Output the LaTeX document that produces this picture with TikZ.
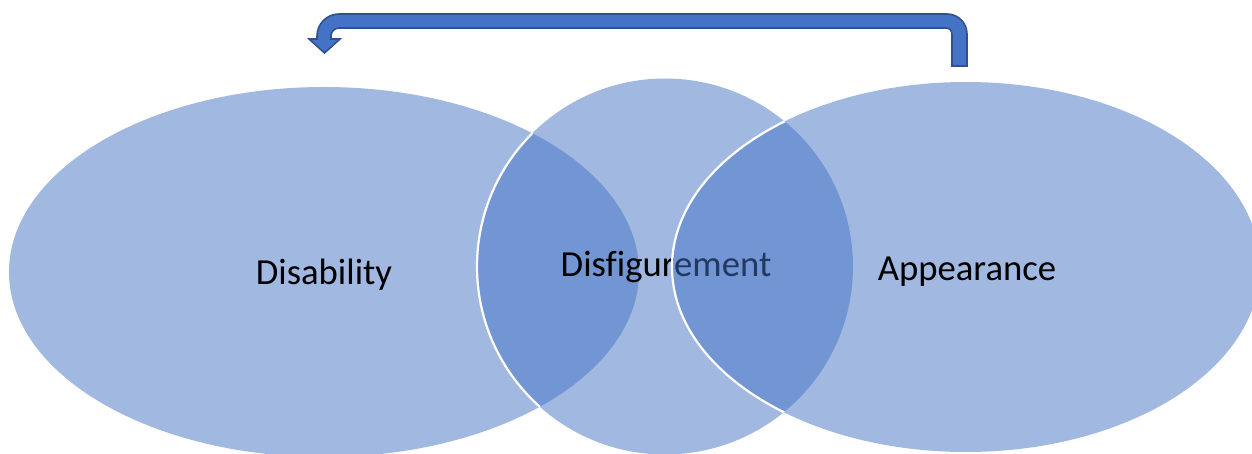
\documentclass[tikz,border=0pt]{standalone}
\usepackage{fontspec}
\setmainfont{Carlito}[Ligatures={NoCommon}]
\definecolor{acc}{HTML}{4472C4}
\definecolor{accd}{HTML}{2F528F}
\tikzset{
  blob/.style={fill=acc, fill opacity=0.5, draw=none},
  rim/.style={draw=white, line width=1.1pt},
  lbl/.style={font=\fontsize{18.35}{22}\selectfont, text=black, anchor=base, inner sep=0pt},
  uarrow/.style={fill=acc, draw=accd, line width=0.8pt, line join=miter}
}
\begin{document}
\begin{tikzpicture}[x=0.5pt,y=-0.5pt]
\useasboundingbox (0,0) rectangle (1252,454);
\clip (0,0) rectangle (1252,454);
% left ellipse
\path[blob] (324,272) ellipse [x radius=315, y radius=185];
\node[lbl] (dis) at (324,285) {Disability};
% centre circle
\path[blob] (665,266.5) circle [radius=188];
\begin{scope}
  \clip (324,272) ellipse [x radius=315, y radius=185];
  \path[rim] (665,266.5) circle [radius=188];
\end{scope}
\node[lbl] (dfg) at (666,277) {Disfigurement};
% right ellipse
\path[blob] (966,267) ellipse [x radius=294, y radius=185];
\begin{scope}
  \clip (665,266.5) circle [radius=188];
  \path[rim] (966,267) ellipse [x radius=294, y radius=185];
\end{scope}
\node[lbl] (app) at (967,280) {Appearance};
% bent arrow
\coordinate (start) at (959.5,66);
\coordinate (tip) at (324.5,53);
\path[uarrow] (967,66) -- (967,34)
  .. controls (967,22.95) and (958.05,14) .. (947,14)
  -- (339,14)
  .. controls (326.85,14) and (317,23.85) .. (317,36)
  -- (317,39) -- (309,39) -- (tip) -- (340,39) -- (331,39) -- (331,36)
  .. controls (331,31.58) and (334.58,28) .. (339,28)
  -- (946,28)
  .. controls (949.31,28) and (952,30.69) .. (952,34)
  -- (952,66) -- cycle;
\end{tikzpicture}
\end{document}
